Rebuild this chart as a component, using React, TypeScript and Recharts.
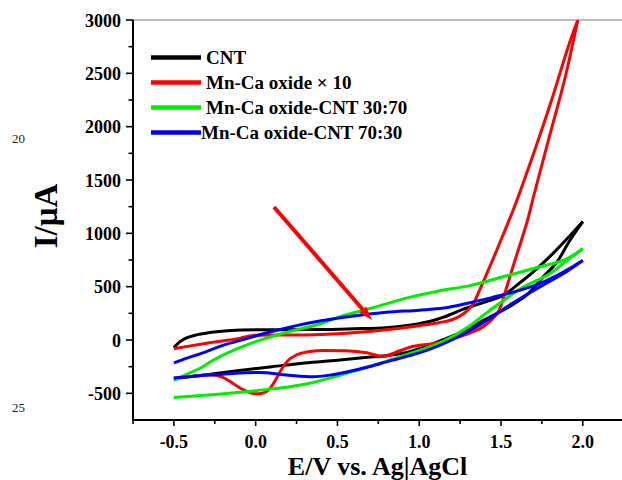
import React from 'react';
import { LineChart, Line, XAxis, YAxis, ReferenceLine, Legend, Label } from 'recharts';

// Cyclic voltammograms: potential E (V vs. Ag|AgCl) and current I (µA),
// each listed as the anodic sweep up to the vertex followed by the return sweep.
const cntE = [-0.5, -0.47, -0.43, -0.37, -0.28, -0.15, 0.0, 0.2, 0.4, 0.6, 0.8, 0.95, 1.08, 1.14, 1.2, 1.27, 1.31, 1.41, 1.51, 1.61, 1.72, 1.82, 1.92, 2.0,
  1.92, 1.84, 1.75, 1.675, 1.58, 1.47, 1.35, 1.25, 1.15, 1.05, 0.9, 0.7, 0.5, 0.3, 0.1, -0.1, -0.3, -0.5];
const cntI = [-72, -25, 15, 45, 70, 88, 95, 97, 98, 105, 115, 140, 180, 209, 245, 290, 310, 360, 415, 530, 670, 815, 975, 1110,
  930, 725, 580, 446, 340, 246, 150, 70, 5, -55, -125, -160, -190, -215, -250, -285, -325, -362];

const mnCaE = [-0.5, -0.4, -0.28, -0.1, 0.0, 0.3, 0.5, 0.74, 1.0, 1.12, 1.2, 1.26, 1.3, 1.33, 1.37, 1.41, 1.46, 1.51, 1.57, 1.7, 1.82, 1.92, 1.97,
  1.9, 1.8, 1.7, 1.66, 1.624, 1.58, 1.54, 1.49, 1.44, 1.4, 1.3, 1.2, 1.1, 0.94, 0.85, 0.78, 0.68, 0.55, 0.42, 0.32, 0.25, 0.2, 0.165, 0.12, 0.085, 0.04, 0.005, -0.04, -0.09, -0.14, -0.2, -0.27, -0.38, -0.5];
const mnCaI = [-82, -55, -25, 15, 45, 48, 58, 87, 134, 162, 190, 235, 285, 337, 470, 610, 790, 975, 1200, 1750, 2300, 2790, 3000,
  2510, 1930, 1350, 1110, 931, 720, 520, 285, 185, 134, 60, 9, -30, -69, -120, -155, -120, -100, -98, -110, -140, -190, -258, -380, -460, -500, -505, -490, -455, -405, -350, -325, -340, -360];

const mix3070E = [-0.5, -0.42, -0.34, -0.26, -0.14, 0.0, 0.16, 0.39, 0.55, 0.7, 0.94, 1.12, 1.31, 1.53, 1.72, 1.92, 2.0,
  1.9, 1.81, 1.63, 1.43, 1.31, 1.15, 0.94, 0.68, 0.47, 0.3, 0.0, -0.25, -0.5];
const mix3070I = [-380, -320, -265, -190, -100, -15, 60, 150, 235, 295, 400, 460, 510, 600, 680, 775, 855,
  740, 633, 490, 275, 134, -10, -128, -256, -350, -415, -475, -510, -540];

const mix7030E = [-0.5, -0.42, -0.34, -0.2, -0.05, 0.1, 0.25, 0.4, 0.6, 0.8, 1.0, 1.15, 1.31, 1.45, 1.6, 1.74, 1.85, 1.93, 2.0,
  1.9, 1.78, 1.65, 1.53, 1.43, 1.33, 1.2, 1.05, 0.94, 0.8, 0.68, 0.47, 0.35, 0.2, 0.02, -0.18, -0.35, -0.5];
const mix7030I = [-215, -170, -130, -50, 15, 80, 135, 180, 225, 260, 280, 300, 350, 400, 460, 530, 610, 680, 745,
  640, 535, 420, 305, 200, 105, 0, -95, -147, -205, -256, -325, -345, -330, -305, -318, -335, -357];

const seriesNames = ['CNT', 'Mn-Ca oxide × 10', 'Mn-Ca oxide-CNT 30:70', 'Mn-Ca oxide-CNT 70:30'];

const xTicks = [-0.75, -0.5, -0.25, 0, 0.25, 0.5, 0.75, 1, 1.25, 1.5, 1.75, 2];
const yTicks = [-500, -250, 0, 250, 500, 750, 1000, 1250, 1500, 1750, 2000, 2250, 2500, 2750, 3000];

// Annotation arrow pointing at the Mn-Ca oxide curve (data coordinates).
const arrowStart = { x: 0.112, y: 1247 };
const arrowEnd = { x: 0.711, y: 187 };

const lineNumbers = ['20', '25'];

// ---- styling ----
const FONT = '"Liberation Serif", "Times New Roman", serif';
const COLORS = ['#000000', '#ff0000', '#00ee00', '#0000ff'];
const LEGEND_LABEL_X = [206, 206, 206, 201];

type Pt = { e: number; i: number };

// Split a closed sweep at its vertex into two branches, each ordered by E.
function branches(E: number[], I: number[]): [Pt[], Pt[]] {
  const pts = E.map((e, j) => ({ e, i: I[j] }));
  const k = E.indexOf(Math.max(...E));
  const fwd = pts.slice(0, k + 1);
  const rev = pts.slice(k).sort((a, b) => a.e - b.e);
  return [fwd, rev];
}

const sweeps = [
  branches(cntE, cntI),
  branches(mnCaE, mnCaI),
  branches(mix3070E, mix3070I),
  branches(mix7030E, mix7030I),
];

function YTick(props: any) {
  const { x, y, payload } = props;
  const v = payload.value as number;
  const major = v % 500 === 0;
  return (
    <g>
      <line x1={x - (major ? 7 : 4.5)} x2={x} y1={y} y2={y} stroke="#000" strokeWidth={1.6} />
      {major && (
        <text x={x - 12} y={y + 6.5} textAnchor="end" fontFamily={FONT} fontWeight="bold" fontSize={18} fill="#000">
          {v}
        </text>
      )}
    </g>
  );
}

function XTick(props: any) {
  const { x, y, payload } = props;
  const v = payload.value as number;
  const major = v >= -0.5 && Math.abs(v * 2 - Math.round(v * 2)) < 1e-6;
  return (
    <g>
      <line x1={x} x2={x} y1={y} y2={y + (major ? 6 : 4)} stroke="#000" strokeWidth={1.6} />
      {major && (
        <text x={x} y={y + 28} textAnchor="middle" fontFamily={FONT} fontWeight="bold" fontSize={18} fill="#000">
          {v.toFixed(1)}
        </text>
      )}
    </g>
  );
}

function XTitle(props: any) {
  const vb = props.viewBox || { x: 133, y: 420, width: 489 };
  return (
    <text x={vb.x + vb.width / 2} y={vb.y + 55} textAnchor="middle" fontFamily={FONT} fontWeight="bold" fontSize={26} fill="#000">
      E/V vs. Ag|AgCl
    </text>
  );
}

function YTitle(props: any) {
  const vb = props.viewBox || { x: 0, y: 20, width: 133, height: 400 };
  const cx = vb.x + 46;
  const cy = vb.y + vb.height / 2 - 4;
  return (
    <text
      x={cx}
      y={cy}
      transform={`rotate(-90, ${cx}, ${cy})`}
      textAnchor="middle"
      dominantBaseline="central"
      fontFamily={FONT}
      fontWeight="bold"
      fontSize={33}
      fill="#000"
    >
      I/μA
    </text>
  );
}

function ArrowShape(props: any) {
  const { x1, y1, x2, y2 } = props;
  const ang = Math.atan2(y2 - y1, x2 - x1);
  const len = 14;
  const half = 4.5;
  const bx = x2 - len * Math.cos(ang);
  const by = y2 - len * Math.sin(ang);
  const nx = -Math.sin(ang) * half;
  const ny = Math.cos(ang) * half;
  return (
    <g>
      <line x1={x1} y1={y1} x2={bx} y2={by} stroke="#ff0000" strokeWidth={4} />
      <polygon points={`${x2},${y2} ${bx + nx},${by + ny} ${bx - nx},${by - ny}`} fill="#ff0000" />
    </g>
  );
}

function LegendBox(props: any) {
  const payload = (props.payload || []) as any[];
  const items = seriesNames
    .map((name) => payload.find((p) => p.value === name))
    .filter(Boolean);
  return (
    <svg width={622} height={160} style={{ display: 'block' }}>
      {items.map((entry: any, k: number) => {
        const y = 57.5 + k * 25;
        return (
          <g key={entry.value}>
            <line x1={151} x2={201} y1={y} y2={y} stroke={entry.color} strokeWidth={4.5} />
            <text x={LEGEND_LABEL_X[k]} y={y + 6.5} fontFamily={FONT} fontWeight="bold" fontSize={19} fill="#000">
              {entry.value}
            </text>
          </g>
        );
      })}
    </svg>
  );
}

export default function App() {
  return (
    <div style={{ position: 'absolute', left: 0, top: 0, width: 622, height: 480, background: '#fff' }}>
      <LineChart width={622} height={480} margin={{ top: 20, right: 0, bottom: 0, left: 0 }}>
        <XAxis
          dataKey="e"
          type="number"
          domain={[-0.75, 2.24]}
          allowDataOverflow
          ticks={xTicks}
          interval={0}
          height={60}
          tickSize={0}
          tickMargin={0}
          tickLine={false}
          axisLine={{ stroke: '#000', strokeWidth: 2 }}
          tick={<XTick />}
          label={<Label content={XTitle} />}
        />
        <YAxis
          dataKey="i"
          type="number"
          domain={[-750, 3000]}
          allowDataOverflow
          ticks={yTicks}
          interval={0}
          width={133}
          tickSize={0}
          tickMargin={0}
          tickLine={false}
          axisLine={{ stroke: '#000', strokeWidth: 2 }}
          tick={<YTick />}
          label={<Label content={YTitle} />}
        />
        <ReferenceLine y={3000} stroke="#a8a8a8" strokeWidth={1.5} />
        {sweeps.map(([fwd, rev], k) => [
          <Line
            key={`f${k}`}
            data={fwd}
            dataKey="i"
            name={seriesNames[k]}
            type="monotone"
            stroke={COLORS[k]}
            strokeWidth={3}
            dot={false}
            activeDot={false}
            isAnimationActive={false}
          />,
          <Line
            key={`r${k}`}
            data={rev}
            dataKey="i"
            name={seriesNames[k]}
            legendType="none"
            type="monotone"
            stroke={COLORS[k]}
            strokeWidth={3}
            dot={false}
            activeDot={false}
            isAnimationActive={false}
          />,
        ])}
        <ReferenceLine segment={[arrowStart, arrowEnd]} shape={ArrowShape} />
        <Legend
          layout="vertical"
          align="center"
          verticalAlign="middle"
          wrapperStyle={{ left: 0, top: 0, width: 622, height: 160, pointerEvents: 'none' }}
          content={LegendBox}
        />
      </LineChart>
      <svg width={622} height={480} style={{ position: 'absolute', left: 0, top: 0, pointerEvents: 'none' }}>
        <text x={12} y={142.5} fontFamily={FONT} fontSize={13} fill="#222">{lineNumbers[0]}</text>
        <text x={12} y={411.5} fontFamily={FONT} fontSize={13} fill="#222">{lineNumbers[1]}</text>
      </svg>
    </div>
  );
}
